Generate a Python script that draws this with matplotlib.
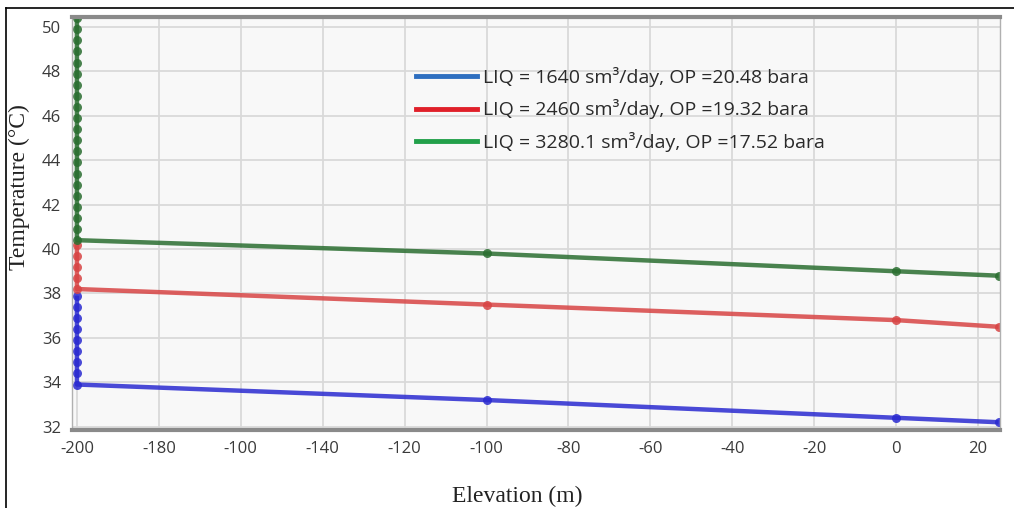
import matplotlib
matplotlib.use("Agg")
import matplotlib.pyplot as plt
from matplotlib.lines import Line2D

# ---------------- data ----------------
elev_ticks = [-200, -180, -160, -140, -120, -100, -80, -60, -40, -20, 0, 20]
elev_tick_labels = ["-200", "-180", "-100", "-140", "-120", "-100",
                    "-80", "-60", "-40", "-20", "0", "20"]
temp_ticks = [32, 34, 36, 38, 40, 42, 44, 46, 48, 50]

# riser section (constant elevation) then the flowline points
blue_x = [-200] * 9 + [-100, 0, 25]
blue_y = [37.9, 37.4, 36.9, 36.4, 35.9, 35.4, 34.9, 34.4, 33.9, 33.2, 32.4, 32.2]
red_x = [-200] * 5 + [-100, 0, 25]
red_y = [40.2, 39.7, 39.2, 38.7, 38.2, 37.5, 36.8, 36.5]
green_x = [-200] * 21 + [-100, 0, 25]
green_y = [50.4, 49.9, 49.4, 48.9, 48.4, 47.9, 47.4, 46.9, 46.4, 45.9, 45.4,
           44.9, 44.4, 43.9, 43.4, 42.9, 42.4, 41.9, 41.4, 40.9, 40.4,
           39.8, 39.0, 38.8]

labels = ["LIQ = 1640 sm³/day, OP =20.48 bara",
          "LIQ = 2460 sm³/day, OP =19.32 bara",
          "LIQ = 3280.1 sm³/day, OP =17.52 bara"]

C_BLUE, C_RED, C_GREEN = "#2a2ad0", "#d84444", "#2a6e30"
L_BLUE, L_RED, L_GREEN = "#2e6fc0", "#e0202a", "#22a04a"

fig = plt.figure(figsize=(10.14, 5.08), dpi=100)
ax = fig.add_axes([0.071, 0.1535, 0.915, 0.813])
ax.set_facecolor("#f8f8f8")

for xs, ys, c in [(blue_x, blue_y, C_BLUE), (red_x, red_y, C_RED),
                  (green_x, green_y, C_GREEN)]:
    ax.plot(xs, ys, "-", color=c, lw=3.2, alpha=0.85, marker="o", ms=6.5,
            markeredgewidth=0, solid_capstyle="butt")

ax.set_xlim(-201.2, 25.3)
ax.set_ylim(31.85, 50.45)
ax.set_xticks(elev_ticks)
ax.set_xticklabels(elev_tick_labels)
ax.set_yticks(temp_ticks)
ax.grid(True, color="#d9d9d9", lw=1.3)
ax.set_axisbelow(True)
ax.tick_params(length=0, pad=8, labelsize=12, colors="#3a3a3a")
for t in ax.get_xticklabels() + ax.get_yticklabels():
    t.set_family("Open Sans")

for s in ["top", "bottom"]:
    ax.spines[s].set_color("#8a8a8a")
    ax.spines[s].set_linewidth(3)
for s in ["left", "right"]:
    ax.spines[s].set_color("#b0b0b0")
    ax.spines[s].set_linewidth(1)

ax.set_xlabel("Elevation (m)", family="Liberation Serif", fontsize=17, color="#222222")
ax.set_ylabel("Temperature (°C)", family="Liberation Serif", fontsize=17, color="#222222")
ax.xaxis.set_label_coords(0.48, -0.135)
ax.yaxis.set_label_coords(-0.045, 0.588)

handles = [Line2D([], [], color=c, lw=3.5) for c in (L_BLUE, L_RED, L_GREEN)]
leg = ax.legend(handles, labels, loc="upper left", bbox_to_anchor=(0.352, 0.922),
                frameon=False, handlelength=3.15, handletextpad=0.3,
                labelspacing=0.65, prop={"family": "Open Sans", "size": 14})
for t in leg.get_texts():
    t.set_color("#2a2a2a")

# outer black frame (left and top edges visible in the reference)
fig.add_artist(Line2D([0.006, 0.006], [0.0, 0.984], color="black", lw=1.2,
                      transform=fig.transFigure))
fig.add_artist(Line2D([0.006, 1.0], [0.984, 0.984], color="black", lw=1.2,
                      transform=fig.transFigure))

fig.savefig("out.png", dpi=100)
